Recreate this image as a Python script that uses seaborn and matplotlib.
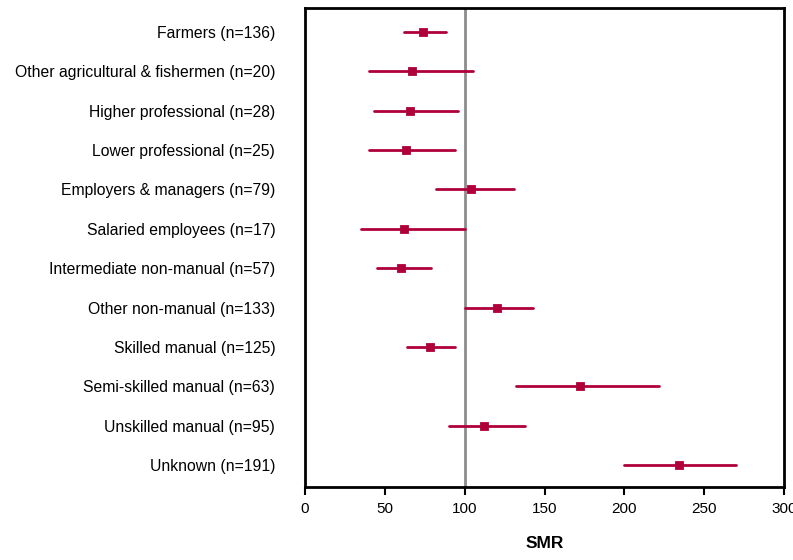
import matplotlib
matplotlib.use("Agg")
import matplotlib.pyplot as plt
import pandas as pd
import seaborn as sns

categories = [
    "Farmers (n=136)",
    "Other agricultural & fishermen (n=20)",
    "Higher professional (n=28)",
    "Lower professional (n=25)",
    "Employers & managers (n=79)",
    "Salaried employees (n=17)",
    "Intermediate non-manual (n=57)",
    "Other non-manual (n=133)",
    "Skilled manual (n=125)",
    "Semi-skilled manual (n=63)",
    "Unskilled manual (n=95)",
    "Unknown (n=191)",
]
smr = [74, 67, 66, 63, 104, 62, 60, 120, 78, 172, 112, 234]
ci_low = [62, 40, 43, 40, 82, 35, 45, 100, 64, 132, 90, 200]
ci_high = [88, 105, 96, 94, 131, 100, 79, 143, 94, 222, 138, 270]
xticks = [0, 50, 100, 150, 200, 250, 300]

# long form: three values per group, median = SMR, min/max = CI
rows = []
for c, lo, m, hi in zip(categories, ci_low, smr, ci_high):
    for v in (lo, m, hi):
        rows.append({"group": c, "SMR": v})
df = pd.DataFrame(rows)

sns.set_style("white")
plt.rcParams["font.family"] = ["Liberation Sans", "DejaVu Sans"]
plt.rcParams["text.color"] = "black"
plt.rcParams["axes.labelcolor"] = "black"
plt.rcParams["xtick.color"] = "black"
plt.rcParams["ytick.color"] = "black"

red = "#B0003A"
fig, ax = plt.subplots(figsize=(7.93, 5.6), dpi=100)
fig.subplots_adjust(left=0.3846, right=0.9887, top=0.9857, bottom=0.1304)

ax.axvline(100, color="#8c8c8c", linewidth=2, zorder=1)
sns.pointplot(data=df, x="SMR", y="group", order=categories,
              estimator="median", errorbar=lambda v: (v.min(), v.max()),
              linestyle="none", marker="s", markersize=4.8,
              color=red, err_kws={"linewidth": 2}, ax=ax, zorder=3)

ax.set_xlim(0, 300)
ax.set_ylim(11.56, -0.61)
ax.set_xticks(xticks)
ax.set_xlabel("SMR", fontsize=12.5, fontweight="bold", labelpad=14)
ax.set_ylabel("")
ax.tick_params(axis="x", length=6, width=1.5, direction="out", pad=5,
               labelsize=11, color="black", bottom=True)
ax.tick_params(axis="y", length=0, pad=21.5, labelsize=11.3)
for s in ax.spines.values():
    s.set_visible(True)
    s.set_color("black")
    s.set_linewidth(2)

fig.savefig("out.png", dpi=100)
